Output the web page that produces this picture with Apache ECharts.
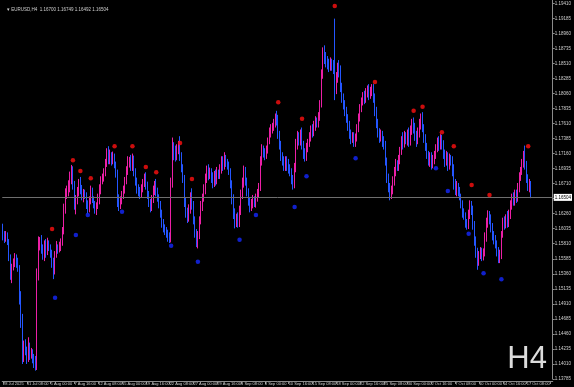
<!DOCTYPE html>
<html><head><meta charset="utf-8">
<script src="https://cdn.jsdelivr.net/npm/echarts@6/dist/echarts.min.js"></script>
<style>html,body{margin:0;padding:0;background:#000;}#c{width:574px;height:387px;}</style>
</head><body><div id="c"></div>
<script>
const symbolName = 'EURUSD';
const timeframe = 'H4';
const tickLabels = ['28 Jul 2025','31 Jul 08:00','5 Aug 00:00','7 Aug 16:00','12 Aug 08:00','15 Aug 00:00','19 Aug 16:00','22 Aug 08:00','27 Aug 00:00','29 Aug 16:00','3 Sep 08:00','8 Sep 00:00','10 Sep 16:00','15 Sep 08:00','18 Sep 00:00','22 Sep 16:00','25 Sep 08:00','30 Sep 00:00','2 Oct 16:00','7 Oct 08:00','10 Oct 00:00','14 Oct 16:00','17 Oct 08:00'];
// [open, close, low, high] per H4 bar, from 28 Jul 16:00 to 17 Oct 20:00
const ohlc = [
[1.1605,1.1592,1.1586,1.1611],[1.1592,1.1589,1.1582,1.1600],
[1.1589,1.1596,1.1584,1.1600],[1.1596,1.1584,1.1579,1.1598],[1.1584,1.1561,1.1555,1.1588],[1.1561,1.1534,1.1527,1.1565],[1.1534,1.1548,1.1522,1.1551],[1.1548,1.1553,1.1541,1.1559],
[1.1553,1.1561,1.1546,1.1567],[1.1561,1.1552,1.1545,1.1565],[1.1552,1.1544,1.1539,1.1560],[1.1544,1.1500,1.1490,1.1549],[1.1500,1.1470,1.1455,1.1510],[1.1470,1.1412,1.1401,1.1476],
[1.1412,1.1430,1.1404,1.1436],[1.1430,1.1421,1.1414,1.1438],[1.1421,1.1409,1.1401,1.1427],[1.1409,1.1427,1.1404,1.1441],[1.1427,1.1415,1.1407,1.1433],[1.1415,1.1418,1.1409,1.1425],
[1.1418,1.1410,1.1402,1.1423],[1.1410,1.1403,1.1395,1.1416],[1.1403,1.1398,1.1391,1.1413],[1.1398,1.1536,1.1392,1.1544],[1.1536,1.1581,1.1526,1.1592],[1.1581,1.1586,1.1571,1.1591],
[1.1586,1.1574,1.1566,1.1594],[1.1574,1.1563,1.1557,1.1580],[1.1563,1.1578,1.1555,1.1586],[1.1578,1.1569,1.1560,1.1588],[1.1569,1.1582,1.1564,1.1590],[1.1582,1.1575,1.1570,1.1586],
[1.1575,1.1567,1.1560,1.1580],[1.1567,1.1553,1.1545,1.1572],[1.1553,1.1539,1.1528,1.1560],[1.1539,1.1565,1.1535,1.1570],[1.1565,1.1576,1.1560,1.1585],[1.1576,1.1572,1.1566,1.1580],
[1.1572,1.1578,1.1568,1.1584],[1.1578,1.1583,1.1570,1.1589],[1.1583,1.1601,1.1578,1.1606],[1.1601,1.1636,1.1595,1.1641],[1.1636,1.1655,1.1626,1.1664],[1.1655,1.1660,1.1648,1.1668],
[1.1660,1.1667,1.1652,1.1676],[1.1667,1.1682,1.1658,1.1689],[1.1682,1.1690,1.1670,1.1699],[1.1690,1.1668,1.1662,1.1697],[1.1668,1.1640,1.1632,1.1675],[1.1640,1.1648,1.1625,1.1654],
[1.1648,1.1660,1.1640,1.1666],[1.1660,1.1672,1.1652,1.1678],[1.1672,1.1664,1.1655,1.1681],[1.1664,1.1652,1.1646,1.1669],[1.1652,1.1658,1.1643,1.1663],[1.1658,1.1654,1.1648,1.1662],
[1.1654,1.1640,1.1633,1.1658],[1.1640,1.1632,1.1626,1.1646],[1.1632,1.1645,1.1628,1.1652],[1.1645,1.1660,1.1640,1.1668],[1.1660,1.1648,1.1642,1.1665],[1.1648,1.1640,1.1634,1.1652],
[1.1640,1.1631,1.1626,1.1645],[1.1631,1.1638,1.1624,1.1643],[1.1638,1.1650,1.1633,1.1656],[1.1650,1.1662,1.1640,1.1670],[1.1662,1.1675,1.1655,1.1682],[1.1675,1.1680,1.1670,1.1686],
[1.1680,1.1688,1.1674,1.1694],[1.1688,1.1702,1.1682,1.1708],[1.1702,1.1715,1.1696,1.1724],[1.1715,1.1710,1.1700,1.1727],[1.1710,1.1712,1.1700,1.1722],[1.1712,1.1705,1.1698,1.1718],
[1.1705,1.1712,1.1700,1.1719],[1.1712,1.1700,1.1694,1.1716],[1.1700,1.1688,1.1680,1.1704],[1.1688,1.1645,1.1636,1.1692],[1.1645,1.1640,1.1630,1.1655],[1.1640,1.1648,1.1633,1.1652],
[1.1648,1.1655,1.1640,1.1660],[1.1655,1.1662,1.1648,1.1668],[1.1662,1.1676,1.1656,1.1681],[1.1676,1.1690,1.1670,1.1697],[1.1690,1.1702,1.1684,1.1712],[1.1702,1.1705,1.1695,1.1711],
[1.1705,1.1696,1.1690,1.1714],[1.1696,1.1708,1.1690,1.1716],[1.1708,1.1690,1.1682,1.1713],[1.1690,1.1676,1.1668,1.1694],[1.1676,1.1665,1.1656,1.1680],[1.1665,1.1660,1.1652,1.1670],
[1.1660,1.1655,1.1648,1.1666],[1.1655,1.1664,1.1650,1.1670],[1.1664,1.1672,1.1658,1.1678],[1.1672,1.1680,1.1666,1.1686],[1.1680,1.1670,1.1662,1.1688],[1.1670,1.1655,1.1648,1.1674],
[1.1655,1.1642,1.1636,1.1660],[1.1642,1.1635,1.1628,1.1648],[1.1635,1.1648,1.1630,1.1654],[1.1648,1.1660,1.1642,1.1668],[1.1660,1.1668,1.1654,1.1675],[1.1668,1.1660,1.1652,1.1678],
[1.1660,1.1650,1.1644,1.1665],[1.1650,1.1640,1.1634,1.1655],[1.1640,1.1628,1.1620,1.1645],[1.1628,1.1612,1.1605,1.1632],[1.1612,1.1606,1.1598,1.1618],[1.1606,1.1600,1.1594,1.1610],
[1.1600,1.1596,1.1590,1.1606],[1.1596,1.1590,1.1584,1.1602],[1.1590,1.1585,1.1582,1.1598],[1.1585,1.1672,1.1583,1.1680],[1.1672,1.1718,1.1665,1.1740],[1.1718,1.1716,1.1706,1.1733],
[1.1716,1.1712,1.1704,1.1728],[1.1712,1.1722,1.1706,1.1730],[1.1722,1.1728,1.1715,1.1735],[1.1728,1.1712,1.1705,1.1742],[1.1712,1.1695,1.1688,1.1718],[1.1695,1.1680,1.1672,1.1700],
[1.1680,1.1645,1.1636,1.1684],[1.1645,1.1628,1.1620,1.1650],[1.1628,1.1620,1.1612,1.1635],[1.1620,1.1632,1.1614,1.1640],[1.1632,1.1650,1.1626,1.1658],[1.1650,1.1640,1.1632,1.1664],
[1.1640,1.1618,1.1610,1.1645],[1.1618,1.1598,1.1590,1.1622],[1.1598,1.1585,1.1576,1.1603],[1.1585,1.1594,1.1574,1.1600],[1.1594,1.1615,1.1588,1.1622],[1.1615,1.1638,1.1610,1.1645],
[1.1638,1.1650,1.1630,1.1656],[1.1650,1.1662,1.1644,1.1670],[1.1662,1.1680,1.1655,1.1686],[1.1680,1.1690,1.1672,1.1698],[1.1690,1.1684,1.1676,1.1700],[1.1684,1.1688,1.1678,1.1695],
[1.1688,1.1680,1.1672,1.1694],[1.1680,1.1672,1.1664,1.1688],[1.1672,1.1682,1.1666,1.1690],[1.1682,1.1675,1.1668,1.1692],[1.1675,1.1688,1.1670,1.1696],[1.1688,1.1684,1.1678,1.1692],
[1.1684,1.1692,1.1678,1.1700],[1.1692,1.1705,1.1686,1.1712],[1.1705,1.1698,1.1690,1.1712],[1.1698,1.1710,1.1692,1.1718],[1.1710,1.1702,1.1696,1.1714],[1.1702,1.1698,1.1692,1.1708],
[1.1698,1.1690,1.1684,1.1704],[1.1690,1.1672,1.1664,1.1694],[1.1672,1.1650,1.1640,1.1676],[1.1650,1.1628,1.1618,1.1655],[1.1628,1.1612,1.1604,1.1634],[1.1612,1.1620,1.1606,1.1626],
[1.1620,1.1612,1.1605,1.1628],[1.1612,1.1630,1.1606,1.1638],[1.1630,1.1655,1.1624,1.1662],[1.1655,1.1672,1.1648,1.1680],[1.1672,1.1690,1.1665,1.1698],[1.1690,1.1675,1.1668,1.1696],
[1.1675,1.1660,1.1652,1.1680],[1.1660,1.1645,1.1638,1.1664],[1.1645,1.1635,1.1628,1.1650],[1.1635,1.1640,1.1630,1.1648],[1.1640,1.1648,1.1634,1.1654],[1.1648,1.1642,1.1636,1.1652],
[1.1642,1.1650,1.1635,1.1656],[1.1650,1.1658,1.1644,1.1663],[1.1658,1.1665,1.1650,1.1672],[1.1665,1.1705,1.1660,1.1712],[1.1705,1.1722,1.1698,1.1730],[1.1722,1.1718,1.1710,1.1728],
[1.1718,1.1715,1.1706,1.1724],[1.1715,1.1722,1.1708,1.1728],[1.1722,1.1735,1.1716,1.1740],[1.1735,1.1748,1.1730,1.1755],[1.1748,1.1752,1.1740,1.1760],[1.1752,1.1756,1.1746,1.1762],
[1.1756,1.1762,1.1750,1.1768],[1.1762,1.1770,1.1755,1.1776],[1.1770,1.1766,1.1758,1.1780],[1.1766,1.1745,1.1738,1.1774],[1.1745,1.1730,1.1722,1.1750],[1.1730,1.1712,1.1705,1.1735],
[1.1712,1.1705,1.1698,1.1718],[1.1705,1.1696,1.1690,1.1712],[1.1696,1.1706,1.1690,1.1712],[1.1706,1.1698,1.1690,1.1712],[1.1698,1.1695,1.1686,1.1708],[1.1695,1.1690,1.1682,1.1700],
[1.1690,1.1678,1.1670,1.1694],[1.1678,1.1672,1.1662,1.1684],[1.1672,1.1695,1.1664,1.1702],[1.1695,1.1730,1.1688,1.1738],[1.1730,1.1740,1.1722,1.1750],[1.1740,1.1735,1.1728,1.1748],
[1.1735,1.1742,1.1728,1.1752],[1.1742,1.1730,1.1722,1.1755],[1.1730,1.1716,1.1708,1.1735],[1.1716,1.1712,1.1704,1.1724],[1.1712,1.1725,1.1705,1.1732],[1.1725,1.1732,1.1718,1.1738],
[1.1732,1.1740,1.1726,1.1748],[1.1740,1.1752,1.1734,1.1758],[1.1752,1.1748,1.1740,1.1760],[1.1748,1.1758,1.1742,1.1765],[1.1758,1.1765,1.1750,1.1772],[1.1765,1.1762,1.1755,1.1770],
[1.1762,1.1770,1.1755,1.1778],[1.1770,1.1790,1.1765,1.1796],[1.1790,1.1835,1.1785,1.1842],[1.1835,1.1868,1.1828,1.1875],[1.1868,1.1860,1.1850,1.1878],[1.1860,1.1855,1.1845,1.1868],
[1.1855,1.1850,1.1842,1.1862],[1.1850,1.1845,1.1838,1.1858],[1.1845,1.1852,1.1840,1.1860],[1.1852,1.1848,1.1840,1.1858],[1.1848,1.1842,1.1835,1.1856],[1.1842,1.1818,1.1796,1.1918],
[1.1818,1.1830,1.1805,1.1838],[1.1830,1.1845,1.1822,1.1852],[1.1845,1.1840,1.1830,1.1856],[1.1840,1.1815,1.1808,1.1848],[1.1815,1.1800,1.1792,1.1822],[1.1800,1.1790,1.1782,1.1806],
[1.1790,1.1780,1.1772,1.1796],[1.1780,1.1770,1.1762,1.1786],[1.1770,1.1758,1.1750,1.1775],[1.1758,1.1745,1.1738,1.1765],[1.1745,1.1738,1.1730,1.1752],[1.1738,1.1742,1.1732,1.1748],
[1.1742,1.1735,1.1726,1.1748],[1.1735,1.1740,1.1726,1.1746],[1.1740,1.1755,1.1734,1.1760],[1.1755,1.1770,1.1748,1.1776],[1.1770,1.1785,1.1764,1.1790],[1.1785,1.1795,1.1778,1.1800],
[1.1795,1.1802,1.1788,1.1808],[1.1802,1.1798,1.1790,1.1810],[1.1798,1.1808,1.1792,1.1814],[1.1808,1.1812,1.1800,1.1818],[1.1812,1.1805,1.1796,1.1820],[1.1805,1.1810,1.1798,1.1816],
[1.1810,1.1815,1.1802,1.1820],[1.1815,1.1800,1.1792,1.1820],[1.1800,1.1780,1.1772,1.1806],[1.1780,1.1762,1.1754,1.1786],[1.1762,1.1748,1.1740,1.1768],[1.1748,1.1740,1.1732,1.1754],
[1.1740,1.1745,1.1734,1.1752],[1.1745,1.1735,1.1726,1.1750],[1.1735,1.1730,1.1722,1.1742],[1.1730,1.1705,1.1698,1.1735],[1.1705,1.1680,1.1672,1.1710],[1.1680,1.1665,1.1658,1.1686],
[1.1665,1.1655,1.1646,1.1672],[1.1655,1.1662,1.1648,1.1668],[1.1662,1.1675,1.1655,1.1682],[1.1675,1.1690,1.1668,1.1696],[1.1690,1.1700,1.1682,1.1708],[1.1700,1.1698,1.1690,1.1706],
[1.1698,1.1708,1.1690,1.1714],[1.1708,1.1720,1.1700,1.1726],[1.1720,1.1735,1.1714,1.1742],[1.1735,1.1730,1.1722,1.1748],[1.1730,1.1742,1.1725,1.1750],[1.1742,1.1738,1.1730,1.1748],
[1.1738,1.1745,1.1728,1.1752],[1.1745,1.1735,1.1726,1.1755],[1.1735,1.1750,1.1728,1.1758],[1.1750,1.1762,1.1744,1.1768],[1.1762,1.1755,1.1746,1.1770],[1.1755,1.1742,1.1735,1.1762],
[1.1742,1.1735,1.1726,1.1750],[1.1735,1.1748,1.1730,1.1755],[1.1748,1.1760,1.1740,1.1768],[1.1760,1.1770,1.1752,1.1776],[1.1770,1.1755,1.1748,1.1778],[1.1755,1.1740,1.1732,1.1760],
[1.1740,1.1728,1.1720,1.1745],[1.1728,1.1715,1.1708,1.1732],[1.1715,1.1705,1.1698,1.1720],[1.1705,1.1712,1.1696,1.1718],[1.1712,1.1700,1.1692,1.1718],[1.1700,1.1708,1.1694,1.1714],
[1.1708,1.1715,1.1700,1.1720],[1.1715,1.1725,1.1708,1.1730],[1.1725,1.1735,1.1718,1.1740],[1.1735,1.1728,1.1720,1.1742],[1.1728,1.1738,1.1722,1.1745],[1.1738,1.1730,1.1722,1.1744],
[1.1730,1.1715,1.1708,1.1736],[1.1715,1.1705,1.1696,1.1722],[1.1705,1.1712,1.1698,1.1720],[1.1712,1.1700,1.1690,1.1718],[1.1700,1.1710,1.1692,1.1716],[1.1710,1.1705,1.1698,1.1714],
[1.1705,1.1690,1.1682,1.1712],[1.1690,1.1670,1.1662,1.1700],[1.1670,1.1660,1.1654,1.1678],[1.1660,1.1668,1.1652,1.1675],[1.1668,1.1660,1.1652,1.1672],[1.1660,1.1652,1.1646,1.1666],
[1.1652,1.1640,1.1634,1.1656],[1.1640,1.1628,1.1620,1.1646],[1.1628,1.1622,1.1617,1.1634],[1.1622,1.1612,1.1605,1.1628],[1.1612,1.1608,1.1602,1.1618],[1.1608,1.1625,1.1603,1.1632],
[1.1625,1.1640,1.1618,1.1646],[1.1640,1.1632,1.1624,1.1645],[1.1632,1.1610,1.1602,1.1638],[1.1610,1.1585,1.1578,1.1615],[1.1585,1.1570,1.1560,1.1592],[1.1570,1.1552,1.1542,1.1575],
[1.1552,1.1565,1.1548,1.1570],[1.1565,1.1570,1.1558,1.1576],[1.1570,1.1562,1.1555,1.1575],[1.1562,1.1568,1.1556,1.1574],[1.1568,1.1590,1.1562,1.1598],[1.1590,1.1612,1.1584,1.1620],
[1.1612,1.1625,1.1605,1.1631],[1.1625,1.1620,1.1610,1.1630],[1.1620,1.1605,1.1598,1.1625],[1.1605,1.1595,1.1586,1.1612],[1.1595,1.1588,1.1580,1.1600],[1.1588,1.1580,1.1574,1.1594],
[1.1580,1.1570,1.1562,1.1586],[1.1570,1.1560,1.1552,1.1576],[1.1560,1.1565,1.1552,1.1572],[1.1565,1.1595,1.1558,1.1600],[1.1595,1.1615,1.1590,1.1620],[1.1615,1.1610,1.1602,1.1622],
[1.1610,1.1618,1.1604,1.1625],[1.1618,1.1612,1.1605,1.1630],[1.1612,1.1625,1.1606,1.1632],[1.1625,1.1640,1.1618,1.1646],[1.1640,1.1650,1.1632,1.1656],[1.1650,1.1645,1.1638,1.1658],
[1.1645,1.1655,1.1638,1.1662],[1.1655,1.1650,1.1642,1.1662],[1.1650,1.1665,1.1644,1.1672],[1.1665,1.1682,1.1658,1.1688],[1.1682,1.1690,1.1675,1.1696],[1.1690,1.1702,1.1684,1.1708],
[1.1702,1.1712,1.1695,1.1720],[1.1712,1.1700,1.1692,1.1728],[1.1700,1.1680,1.1672,1.1705],[1.1680,1.1668,1.1660,1.1685],[1.1668,1.1670,1.1658,1.1678],[1.16700,1.16504,1.16492,1.16749]
];
// indicator dots: [bar index, price]
const upDots = [[33,1.1603],[47,1.1706],[52,1.1690],[59,1.1679],[75,1.1727],[87,1.1727],[96,1.1696],[103,1.1688],[119,1.1732],[127,1.1678],[185,1.1793],[201,1.1768],[223,1.1937],[250,1.1823],[276,1.1780],[282,1.1786],[295,1.1748],[303,1.1727],[315,1.1669],[327,1.1654],[353,1.1727]];
const downDots = [[35,1.1500],[49,1.1594],[57,1.1624],[80,1.1629],[113,1.1578],[131,1.1554],[159,1.1587],[170,1.1624],[196,1.1636],[204,1.1682],[237,1.1709],[291,1.1694],[299,1.1660],[313,1.1596],[323,1.1537],[335,1.1528]];
const priceMin = 1.13785, priceMax = 1.19459, priceStep = 0.00225;
const slotCount = 370;
const barsPerLabel = 16;

const last = ohlc[ohlc.length - 1];
const lastClose = last[1];
const titleText = '\u25BE ' + symbolName + ',' + timeframe + '  ' + [last[0], last[3], last[2], last[1]].map(v => v.toFixed(5)).join(' ');
const categories = Array.from({length: slotCount}, (_, i) => String(i));
const UP = '#ec1fa6', DOWN = '#2456ff';

const chart = echarts.init(document.getElementById('c'), null, {renderer: 'canvas'});
chart.setOption({
  animation: false,
  backgroundColor: '#000',
  title: {text: titleText, left: 2, top: 2, textStyle: {color: '#cfcfcf', fontSize: 4.5, fontWeight: 'normal', fontFamily: 'Liberation Sans'}},
  grid: {left: 0, right: 19, top: 0, bottom: 8},
  xAxis: {
    type: 'category', data: categories, boundaryGap: true, offset: 2,
    axisLine: {show: true, lineStyle: {color: '#8a8a8a', width: 1}},
    axisTick: {show: true, interval: barsPerLabel - 1, alignWithLabel: true, length: 3, lineStyle: {color: '#8a8a8a'}},
    axisLabel: {show: true, interval: barsPerLabel - 1, align: 'left', margin: 1, color: '#cfcfcf', fontSize: 4, fontFamily: 'Liberation Sans',
      formatter: (v, i) => (i % barsPerLabel === 0 && tickLabels[i / barsPerLabel]) ? tickLabels[i / barsPerLabel] : ''},
    splitLine: {show: false}
  },
  yAxis: {
    type: 'value', position: 'right', min: priceMin, max: priceMax, interval: priceStep,
    axisLine: {show: true, lineStyle: {color: '#8a8a8a', width: 1}},
    axisTick: {show: true, length: 2, lineStyle: {color: '#8a8a8a'}},
    axisLabel: {show: true, margin: 2, color: '#cfcfcf', fontSize: 4.5, fontFamily: 'Liberation Sans', showMaxLabel: false, formatter: v => v.toFixed(5)},
    splitLine: {show: false}
  },
  series: [
    {
      type: 'candlestick', data: ohlc, barWidth: 1.2,
      itemStyle: {color: UP, color0: DOWN, borderColor: UP, borderColor0: DOWN, borderWidth: 1}
    },
    {type: 'scatter', data: upDots, symbol: 'circle', symbolSize: 4.5, itemStyle: {color: '#ff1010'}, z: 5},
    {type: 'scatter', data: downDots, symbol: 'circle', symbolSize: 4.5, itemStyle: {color: '#1428ff'}, z: 5,
      markLine: {
        silent: true, symbol: 'none', animation: false, precision: 5,
        lineStyle: {color: '#6e6e6e', width: 1, type: 'solid'},
        label: {show: true, position: 'end', distance: 1, formatter: () => lastClose.toFixed(5),
          backgroundColor: '#ffffff', color: '#000', fontSize: 4.5, fontFamily: 'Liberation Sans', padding: [1, 1, 1, 1]},
        data: [{yAxis: lastClose}]
      }
    }
  ],
  graphic: [{type: 'text', right: 27, top: 344, style: {text: timeframe, fill: '#dcdcdc', font: '31px "Liberation Sans"'}}]
});
</script>
</body></html>
